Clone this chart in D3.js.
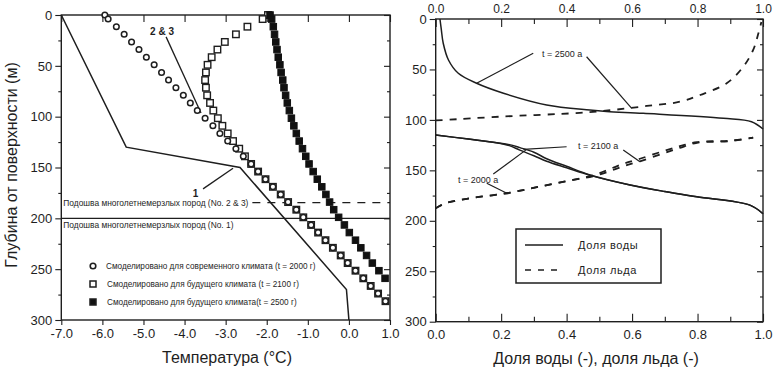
<!DOCTYPE html>
<html>
<head>
<meta charset="utf-8">
<script src="https://cdn.jsdelivr.net/npm/d3@7"></script>
<style>
  body { margin: 0; background: #fff; }
  svg { font-family: "Liberation Sans", Arial, sans-serif; }
  .tick line { stroke: #1e1e1e; }
  .tick text { fill: #1e1e1e; }
</style>
</head>
<body>
<svg id="chart" width="780" height="370"></svg>
<script>
// ---- left panel: temperature profiles ----
const tempTicks = [-7, -6, -5, -4, -3, -2, -1, 0, 1];
const depthTicks = [0, 50, 100, 150, 200, 250, 300];
const depthMinor = [25, 75, 125, 175, 225, 275];

const depths = [0, 4, 11.5, 19, 26.5, 34, 41.5, 49, 56.5, 64, 71.5, 79, 86.5, 94, 101.5,
  109, 116.5, 124, 131.5, 139, 146.5, 154, 161.5, 169, 176.5, 184, 191.5, 199, 206.5,
  214, 221.5, 229, 236.5, 244, 251.5, 259, 266.5, 274, 281.5];

const temp2000 = [-5.94, -5.86, -5.66, -5.47, -5.29, -5.11, -4.93, -4.74, -4.56, -4.39,
  -4.21, -4.03, -3.86, -3.69, -3.50, -3.31, -3.14, -2.95, -2.75, -2.57, -2.38, -2.21,
  -2.03, -1.85, -1.66, -1.48, -1.28, -1.11, -0.92, -0.75, -0.57, -0.39, -0.20, -0.03,
  0.16, 0.35, 0.53, 0.71, 0.89];

const temp2100 = [-1.97, -2.10, -2.47, -2.75, -3.02, -3.20, -3.34, -3.44, -3.48, -3.50,
  -3.48, -3.45, -3.38, -3.30, -3.19, -3.08, -2.95, -2.82, -2.67, -2.53, -2.38, -2.21,
  -2.03, -1.85, -1.66, -1.48, -1.28, -1.11, -0.92, -0.75, -0.57, -0.39, -0.20, -0.03,
  0.16, 0.35, 0.53, 0.71, 0.89];

const temp2500 = [-1.92, -1.88, -1.84, -1.81, -1.78, -1.75, -1.72, -1.68, -1.65, -1.61,
  -1.58, -1.54, -1.50, -1.45, -1.40, -1.34, -1.28, -1.21, -1.13, -1.05, -0.97, -0.87,
  -0.77, -0.66, -0.56, -0.47, -0.37, -0.25, -0.11, 0.01, 0.16, 0.29, 0.43, 0.57, 0.73, 0.88];

// curve 1 (initial profile)
const line1Temp = [-7.0, -5.42, -2.65, -0.06, 0.0];
const line1Depth = [0, 130, 150, 270, 300];

const baseDepth23 = 184.5;
const baseDepth1 = 200;

const legendLeft = [
  "Смоделировано для современного климата (t = 2000 г)",
  "Смоделировано для будущего климата (t = 2100 г)",
  "Смоделировано для будущего климата(t = 2500 г)"
];

// ---- right panel: water / ice fractions ----
const fracTicks = [0, 0.2, 0.4, 0.6, 0.8, 1.0];
const fracMinor = [0.1, 0.3, 0.5, 0.7, 0.9];

const water2500Frac = [0.013, 0.017, 0.023, 0.039, 0.069, 0.125, 0.207, 0.339, 0.471, 0.522, 0.634, 0.879, 0.965, 1.0];
const water2500Depth = [0, 10, 24, 40.6, 53.8, 63.7, 73.6, 85.2, 90.2, 91.6, 93.5, 98.4, 101.8, 109];

const ice2500Frac = [0.0, 0.03, 0.196, 0.44, 0.54, 0.645, 0.746, 0.808, 0.889, 0.940, 0.970, 0.986, 0.995];
const ice2500Depth = [100.5, 100, 96.8, 93, 90.2, 86.2, 82, 75.3, 63.7, 47.2, 30.7, 14.2, 3];

const waterFrac = [0, 0.10, 0.186, 0.225, 0.257, 0.30, 0.339, 0.40, 0.472, 0.594, 0.70, 0.798, 0.96, 1.0];
const water2000Depth = [115, 119, 122.6, 124.5, 127.5, 132, 138.5, 146, 154.6, 164.5, 171, 176.2, 184.5, 193];
const water2100Depth = [115, 119, 122.6, 125.5, 130, 135.5, 141, 147.5, 155, 164.5, 171, 176.2, 184.5, 193];

const iceFrac = [0, 0.03, 0.105, 0.217, 0.319, 0.42, 0.48, 0.53, 0.573, 0.624, 0.695, 0.746, 0.798, 0.90, 0.97];
const ice2000Depth = [187.6, 182.6, 177.6, 172.7, 166, 159.4, 156, 151, 146, 141, 133.3, 127.7, 122.7, 121, 117.6];
const ice2100Depth = [187.6, 182.6, 177.6, 172.7, 166, 159.4, 155, 149, 143.5, 138.5, 131, 126, 122, 120.5, 117.6];

const legendRight = ["Доля воды", "Доля льда"];

const ink = "#1e1e1e";
const svg = d3.select("#chart");

const xL = d3.scaleLinear().domain([-7, 1]).range([61.3, 390]);
const yL = d3.scaleLinear().domain([0, 300]).range([15, 320]);
const xR = d3.scaleLinear().domain([0, 1]).range([435.7, 763]);
const yR = d3.scaleLinear().domain([0, 300]).range([19, 321.7]);

const fmt1 = d => d.toFixed(1);

function axisStyle(g, size) {
  g.select(".domain").remove();
  g.selectAll(".tick line").attr("stroke-width", 1.1);
  g.selectAll(".tick text").attr("font-size", size || 13);
}

// ---- left axes ----
svg.append("g")
    .attr("transform", `translate(0,${yL(300)})`)
    .call(d3.axisBottom(xL).tickValues(tempTicks).tickSize(5).tickPadding(4).tickFormat(fmt1))
    .call(axisStyle);

svg.append("g")
    .attr("transform", `translate(0,${yL(0)})`)
    .call(d3.axisTop(xL).tickValues(tempTicks).tickSize(-7).tickFormat(""))
    .call(axisStyle);

svg.append("g")
    .attr("transform", `translate(${xL(-7)},0)`)
    .call(d3.axisLeft(yL).tickValues(depthTicks).tickSize(6).tickPadding(3))
    .call(axisStyle);

svg.append("g")
    .attr("transform", `translate(${xL(-7)},0)`)
    .call(d3.axisLeft(yL).tickValues(depthMinor).tickSize(3).tickFormat(""))
    .call(axisStyle);

svg.append("g")
    .attr("transform", `translate(${xL(1)},0)`)
    .call(d3.axisRight(yL).tickValues(depthTicks).tickSize(-6).tickFormat(""))
    .call(axisStyle);

svg.append("g")
    .attr("transform", `translate(${xL(1)},0)`)
    .call(d3.axisRight(yL).tickValues(depthMinor).tickSize(-3).tickFormat(""))
    .call(axisStyle);

svg.append("rect")
    .attr("x", xL(-7)).attr("y", yL(0))
    .attr("width", xL(1) - xL(-7)).attr("height", yL(300) - yL(0))
    .attr("fill", "none").attr("stroke", ink).attr("stroke-width", 1.4);

// permafrost base lines
svg.append("line")
    .attr("x1", xL(-7)).attr("x2", xL(1))
    .attr("y1", yL(baseDepth1)).attr("y2", yL(baseDepth1))
    .attr("stroke", ink).attr("stroke-width", 1.3);

svg.append("line")
    .attr("x1", xL(-2.35)).attr("x2", xL(1))
    .attr("y1", yL(baseDepth23)).attr("y2", yL(baseDepth23))
    .attr("stroke", ink).attr("stroke-width", 1.3)
    .attr("stroke-dasharray", "8,7");

svg.append("text")
    .attr("x", xL(-7) + 2).attr("y", yL(baseDepth23) + 3)
    .attr("font-size", 8.4).attr("fill", ink)
    .text("Подошва многолетнемерзлых пород (No. 2 & 3)");

svg.append("text")
    .attr("x", xL(-7) + 2).attr("y", yL(baseDepth1) + 10)
    .attr("font-size", 8.4).attr("fill", ink)
    .text("Подошва многолетнемерзлых пород (No. 1)");

// curve 1
const line1 = d3.line().x(d => xL(d[0])).y(d => yL(d[1]));
svg.append("path")
    .datum(d3.zip(line1Temp, line1Depth))
    .attr("d", line1)
    .attr("fill", "none").attr("stroke", ink).attr("stroke-width", 1.5);

// annotation leaders (left)
svg.append("line")
    .attr("x1", xL(-4.45)).attr("y1", yL(21.5))
    .attr("x2", xL(-3.6)).attr("y2", yL(96.4))
    .attr("stroke", ink).attr("stroke-width", 1.3);
svg.append("text")
    .attr("x", xL(-4.84)).attr("y", yL(19.5))
    .attr("font-size", 10).attr("font-weight", "bold").attr("fill", ink)
    .text("2 & 3");

svg.append("line")
    .attr("x1", xL(-3.55)).attr("y1", yL(171))
    .attr("x2", xL(-2.82)).attr("y2", yL(150.8))
    .attr("stroke", ink).attr("stroke-width", 1.3);
svg.append("text")
    .attr("x", xL(-3.8)).attr("y", yL(179))
    .attr("font-size", 10).attr("font-weight", "bold").attr("fill", ink)
    .text("1");

// markers
const sq = 6.5;
svg.append("g").selectAll("rect")
    .data(d3.zip(temp2100, depths))
  .enter().append("rect")
    .attr("x", d => xL(d[0]) - sq / 2).attr("y", d => yL(d[1]) - sq / 2)
    .attr("width", sq).attr("height", sq)
    .attr("fill", "#fff").attr("stroke", ink).attr("stroke-width", 1.4);

svg.append("g").selectAll("circle")
    .data(d3.zip(temp2000, depths))
  .enter().append("circle")
    .attr("cx", d => xL(d[0])).attr("cy", d => yL(d[1]))
    .attr("r", 2.8)
    .attr("fill", "#fff").attr("stroke", ink).attr("stroke-width", 1.5);

svg.append("g").selectAll("rect")
    .data(d3.zip(temp2500, depths))
  .enter().append("rect")
    .attr("x", d => xL(d[0]) - sq / 2).attr("y", d => yL(d[1]) - sq / 2)
    .attr("width", sq).attr("height", sq)
    .attr("fill", "#111").attr("stroke", "#111");

// left legend
const legL = svg.append("g").attr("transform", "translate(93,266)");
legendLeft.forEach((label, i) => {
  const gy = i * 18;
  if (i === 0) {
    legL.append("circle").attr("cx", 0).attr("cy", gy).attr("r", 2.8)
        .attr("fill", "#fff").attr("stroke", ink).attr("stroke-width", 1.6);
  } else {
    legL.append("rect").attr("x", -3).attr("y", gy - 3).attr("width", 6).attr("height", 6)
        .attr("fill", i === 2 ? "#111" : "#fff").attr("stroke", ink).attr("stroke-width", 1.5);
  }
  legL.append("text").attr("x", 13 + (i ? 1 : 0)).attr("y", gy + 3)
      .attr("font-size", 8.2).attr("fill", ink).text(label);
});

// axis titles (left)
svg.append("text")
    .attr("transform", "translate(17,165) rotate(-90)")
    .attr("text-anchor", "middle").attr("font-size", 16).attr("fill", ink)
    .text("Глубина от поверхности (м)");

svg.append("text")
    .attr("x", 227).attr("y", 363)
    .attr("text-anchor", "middle").attr("font-size", 16).attr("fill", ink)
    .text("Температура (°C)");

// ---- right axes ----
svg.append("g")
    .attr("transform", `translate(0,${yR(0)})`)
    .call(d3.axisTop(xR).tickValues(fracTicks).tickSize(-8).tickPadding(6).tickFormat(fmt1))
    .call(g => axisStyle(g, 12));

svg.append("g")
    .attr("transform", `translate(0,${yR(0)})`)
    .call(d3.axisTop(xR).tickValues(fracMinor).tickSize(-5).tickFormat(""))
    .call(axisStyle);

svg.append("g")
    .attr("transform", `translate(0,${yR(300)})`)
    .call(d3.axisBottom(xR).tickValues(fracTicks).tickSize(-8).tickPadding(8).tickFormat(fmt1))
    .call(axisStyle);

svg.append("g")
    .attr("transform", `translate(0,${yR(300)})`)
    .call(d3.axisBottom(xR).tickValues(fracMinor).tickSize(-5).tickFormat(""))
    .call(axisStyle);

svg.append("g")
    .attr("transform", `translate(${xR(0)},0)`)
    .call(d3.axisLeft(yR).tickValues(depthTicks).tickSize(6).tickPadding(3))
    .call(axisStyle);

svg.append("g")
    .attr("transform", `translate(${xR(0)},0)`)
    .call(d3.axisLeft(yR).tickValues(depthMinor).tickSize(3).tickFormat(""))
    .call(axisStyle);

svg.append("g")
    .attr("transform", `translate(${xR(1)},0)`)
    .call(d3.axisRight(yR).tickValues(depthTicks).tickSize(-6).tickFormat(""))
    .call(axisStyle);

svg.append("g")
    .attr("transform", `translate(${xR(1)},0)`)
    .call(d3.axisRight(yR).tickValues(depthMinor).tickSize(-3).tickFormat(""))
    .call(axisStyle);

svg.append("rect")
    .attr("x", xR(0)).attr("y", yR(0))
    .attr("width", xR(1) - xR(0)).attr("height", yR(300) - yR(0))
    .attr("fill", "none").attr("stroke", ink).attr("stroke-width", 1.4);

// fraction curves
const lineR = d3.line().x(d => xR(d[0])).y(d => yR(d[1]));
const smoothR = d3.line().x(d => xR(d[0])).y(d => yR(d[1])).curve(d3.curveCatmullRom.alpha(0.5));
const curves = [
  { f: water2500Frac, d: water2500Depth, dash: null },
  { f: waterFrac, d: water2000Depth, dash: null },
  { f: waterFrac, d: water2100Depth, dash: null },
  { f: ice2500Frac, d: ice2500Depth, dash: "7,7" },
  { f: iceFrac, d: ice2000Depth, dash: "7,7" },
  { f: iceFrac, d: ice2100Depth, dash: "7,7" }
];
curves.forEach(c => {
  svg.append("path")
      .datum(d3.zip(c.f, c.d))
      .attr("d", smoothR)
      .attr("fill", "none").attr("stroke", ink)
      .attr("stroke-width", c.dash ? 1.8 : 1.5)
      .attr("stroke-dasharray", c.dash);
});

// time labels with leaders (right)
const timeLabels = [
  { text: "t = 2500 a", at: [0.325, 37.7], leaders: [[[0.298, 34], [0.125, 63.7]], [[0.461, 37.4], [0.599, 88.5]]] },
  { text: "t = 2100 a", at: [0.435, 128.8], leaders: [[[0.40, 126.6], [0.268, 129.2]], [[0.573, 129.8], [0.624, 141.4]]] },
  { text: "t = 2000 a", at: [0.068, 162.5], leaders: [[[0.176, 153.6], [0.278, 129.2]], [[0.156, 162.8], [0.222, 173.4]]] }
];
timeLabels.forEach(t => {
  svg.append("text")
      .attr("x", xR(t.at[0])).attr("y", yR(t.at[1]))
      .attr("font-size", 9).attr("fill", ink).text(t.text);
  t.leaders.forEach(l => {
    svg.append("path").datum(l).attr("d", lineR)
        .attr("fill", "none").attr("stroke", ink).attr("stroke-width", 1.2);
  });
});

// right legend
const legR = svg.append("g").attr("transform", "translate(516,229)");
legR.append("rect").attr("width", 145).attr("height", 54)
    .attr("fill", "#fff").attr("stroke", ink).attr("stroke-width", 1.5);
legendRight.forEach((label, i) => {
  const gy = 16 + i * 25;
  legR.append("line").attr("x1", 9).attr("x2", 47).attr("y1", gy).attr("y2", gy)
      .attr("stroke", ink).attr("stroke-width", 1.6)
      .attr("stroke-dasharray", i ? "6,7" : null);
  legR.append("text").attr("x", 62).attr("y", gy + 4)
      .attr("font-size", 11).attr("letter-spacing", 0.6).attr("fill", ink).text(label);
});

svg.append("text")
    .attr("x", 596).attr("y", 364)
    .attr("text-anchor", "middle").attr("font-size", 16).attr("fill", ink)
    .text("Доля воды (-),  доля льда (-)");
</script>
</body>
</html>
